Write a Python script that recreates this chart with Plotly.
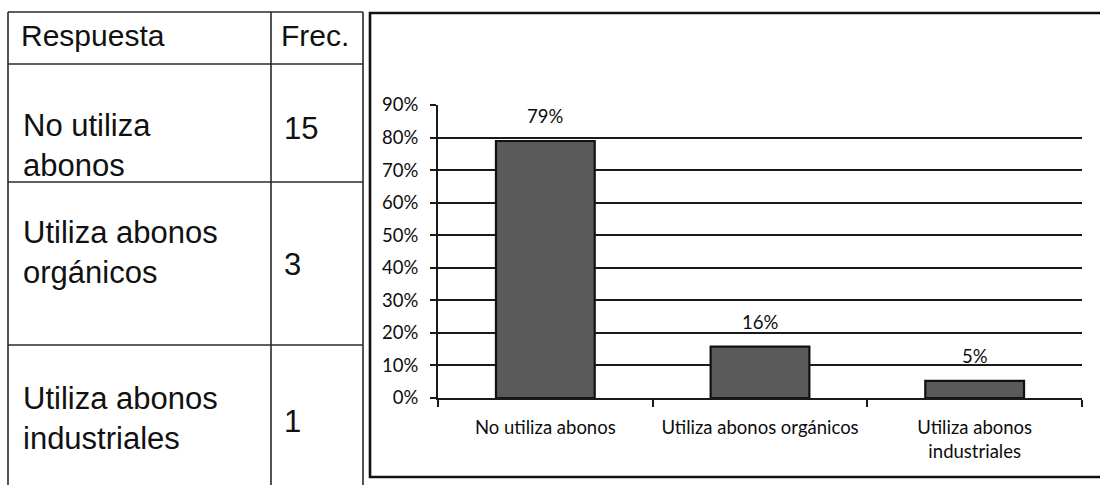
import plotly.graph_objects as go

# Survey answers and their frequencies
respuestas = ["No utiliza abonos", "Utiliza abonos orgánicos", "Utiliza abonos industriales"]
respuestas_tabla = ["No utiliza<br>abonos", "Utiliza abonos<br>orgánicos", "Utiliza abonos<br>industriales"]
etiquetas_eje = ["No utiliza abonos", "Utiliza abonos orgánicos", "Utiliza abonos<br>industriales"]
frecuencias = [15, 3, 1]
encabezados = ["Respuesta", "Frec."]
y_ticks = [0, 0.1, 0.2, 0.3, 0.4, 0.5, 0.6, 0.7, 0.8, 0.9]

total = sum(frecuencias)
porcentajes = [f / total for f in frecuencias]

W, H = 1100, 485


def px(x):
    return x / W


def py(y):
    return 1 - y / H


fig = go.Figure()

fig.add_trace(go.Bar(
    x=respuestas,
    y=porcentajes,
    width=0.46,
    marker=dict(color="#5a5a5a", line=dict(color="#111111", width=2.2)),
    hoverinfo="skip",
))

chart_font = dict(family="Lato, Carlito, sans-serif", size=18.5, color="#0d0d0d")
table_font = dict(family="Liberation Sans, Arial, sans-serif", color="#111111")

annotations = []
# Percentage labels above each bar
for r, p in zip(respuestas, porcentajes):
    annotations.append(dict(
        x=r, y=p, xref="x", yref="y", text=f"{p:.0%}", showarrow=False,
        yanchor="bottom", yshift=12, font=chart_font,
    ))

# Table header
for txt, x0 in zip(encabezados, [19, 279]):
    annotations.append(dict(x=px(x0), y=py(36), xref="paper", yref="paper", text=txt,
                            showarrow=False, xanchor="left", yanchor="middle",
                            font=dict(size=30, **table_font)))

# Table rows: text block centre and number centre
row_text_y = [145, 252, 418]
row_num_y = [129, 264, 421]
for txt, f, ty, ny in zip(respuestas_tabla, frecuencias, row_text_y, row_num_y):
    annotations.append(dict(x=px(21), y=py(ty), xref="paper", yref="paper", text=txt,
                            showarrow=False, xanchor="left", yanchor="middle", align="left",
                            font=dict(size=31, **table_font)))
    annotations.append(dict(x=px(282), y=py(ny), xref="paper", yref="paper", text=str(f),
                            showarrow=False, xanchor="left", yanchor="middle",
                            font=dict(size=31, **table_font)))

shapes = []
tline = dict(color="#2a2a2a", width=1.6)
# Table outline and cell dividers
for xx in [8, 271, 363]:
    shapes.append(dict(type="line", xref="paper", yref="paper", x0=px(xx), x1=px(xx),
                       y0=py(12), y1=py(490), line=tline))
for yy in [12, 64, 182, 345]:
    shapes.append(dict(type="line", xref="paper", yref="paper", x0=px(8), x1=px(363),
                       y0=py(yy), y1=py(yy), line=tline))

# Chart frame
shapes.append(dict(type="rect", xref="paper", yref="paper", x0=px(370), x1=px(1106), y0=py(477), y1=py(13),
                   line=dict(color="#111111", width=2.6), fillcolor="rgba(0,0,0,0)"))

fig.update_layout(
    template="none",
    width=W, height=H,
    margin=dict(l=0, r=0, t=0, b=0, pad=0, autoexpand=False),
    paper_bgcolor="white",
    plot_bgcolor="white",
    showlegend=False,
    annotations=annotations,
    shapes=shapes,
    font=chart_font,
)

fig.update_xaxes(
    domain=[px(438), px(1082)],
    automargin=False,
    tickmode="array",
    tickvals=respuestas,
    ticktext=etiquetas_eje,
    tickson="boundaries",
    ticks="outside", ticklen=7, tickwidth=1.6, tickcolor="#1a1a1a",
    showline=True, linecolor="#1a1a1a", linewidth=1.9,
    showgrid=False,
    ticklabelstandoff=12,
    tickfont=chart_font,
    fixedrange=True,
)

fig.update_yaxes(
    domain=[py(398), py(105)],
    automargin=False,
    range=[0, 0.9],
    tickmode="array",
    tickvals=y_ticks,
    ticktext=[f"{v:.0%}" for v in y_ticks],
    ticks="outside", ticklen=6, tickwidth=1.6, tickcolor="#1a1a1a",
    showline=True, linecolor="#1a1a1a", linewidth=1.9,
    showgrid=True, gridcolor="#1a1a1a", gridwidth=1.8,
    zeroline=False,
    ticklabelstandoff=8,
    tickfont=chart_font,
    fixedrange=True,
)

fig.write_html("out.html")
